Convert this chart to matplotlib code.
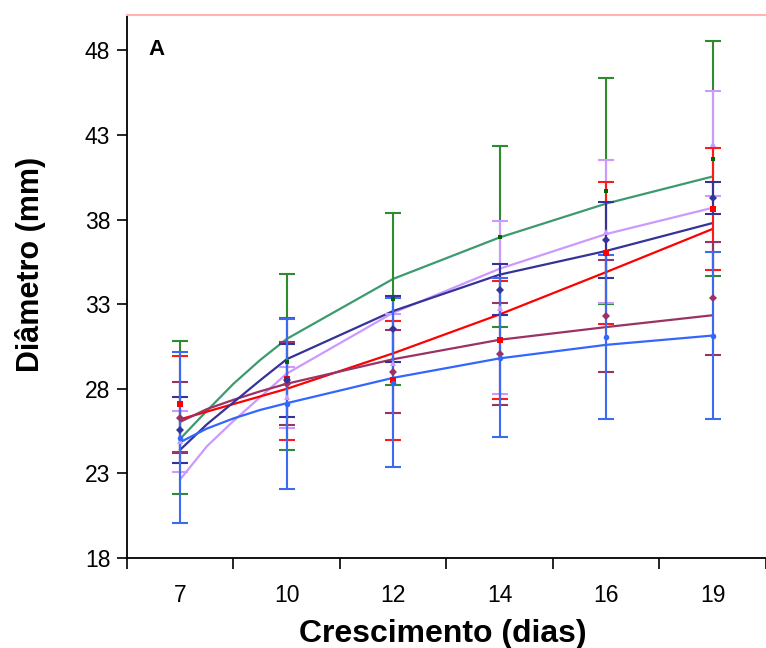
import matplotlib.pyplot as plt
import numpy as np

plt.rcParams["font.family"] = ["Liberation Sans", "DejaVu Sans"]

DAYS = ["7", "10", "12", "14", "16", "19"]

# means and standard deviations
green_mean = [26.3, 29.6, 33.3, 37.0, 39.7, 41.6]
green_sd = [4.5, 5.2, 5.1, 5.35, 6.7, 6.95]
lavender_mean = [24.9, 27.5, 29.5, 32.8, 37.3, 42.5]
lavender_sd = [1.8, 1.8, 2.95, 5.1, 4.2, 3.1]
red_mean = [27.1, 28.6, 28.5, 30.9, 36.05, 38.65]
red_sd = [2.85, 3.6, 3.5, 3.5, 4.2, 3.6]
maroon_mean = [26.3, 28.3, 29.0, 30.05, 32.3, 33.35]
maroon_sd = [2.1, 2.45, 2.45, 3.0, 3.3, 3.35]
navy_mean = [25.55, 28.5, 31.55, 33.85, 36.8, 39.3]
navy_sd = [1.95, 2.15, 1.95, 1.5, 2.25, 0.95]
blue_mean = [25.1, 27.1, 28.35, 29.85, 31.05, 31.15]
blue_sd = [5.05, 5.05, 5.0, 4.7, 4.85, 4.95]

# trend curves, sampled along the category axis
curve_pos = [0, 0.25, 0.5, 0.75, 1, 2, 3, 4, 5]
green_curve = [25.05, 26.7, 28.3, 29.7, 30.95, 34.5, 36.95, 38.95, 40.55]
navy_curve = [24.4, 25.9, 27.2, 28.5, 29.75, 32.6, 34.75, 36.15, 37.8]
lavender_curve = [22.65, 24.6, 26.1, 27.5, 28.9, 32.5, 35.1, 37.15, 38.7]
red_curve = [26.2, 26.65, 27.1, 27.55, 28.0, 30.1, 32.4, 34.9, 37.45]
maroon_curve = [26.05, 26.8, 27.35, 27.85, 28.3, 29.75, 30.9, 31.65, 32.35]
blue_curve = [24.85, 25.65, 26.25, 26.75, 27.15, 28.65, 29.8, 30.6, 31.15]

SERIES = [
    (green_mean, green_sd, green_curve, "#2e8b2e", "#006600", "#3c9b6e", "s", 3.5),
    (lavender_mean, lavender_sd, lavender_curve, "#cc99ff", "#cc99ff", "#cc99ff", "^", 5),
    (red_mean, red_sd, red_curve, "#ff1a1a", "#ff0000", "#ff0000", "s", 4.5),
    (maroon_mean, maroon_sd, maroon_curve, "#993366", "#993366", "#993366", "D", 4),
    (navy_mean, navy_sd, navy_curve, "#333399", "#333399", "#333399", "D", 4),
    (blue_mean, blue_sd, blue_curve, "#3b6cf0", "#3366ff", "#3366ff", "o", 4),
]

fig = plt.figure(figsize=(7.66, 6.48), dpi=100)
ax = fig.add_axes([0.1658, 0.1389, 0.834, 0.838])

x = np.arange(len(DAYS))
for mean, sd, curve, ecol, mcol, ccol, mk, ms in SERIES:
    ax.plot(curve_pos, curve, color=ccol, linewidth=1.6, zorder=2)
for mean, sd, curve, ecol, mcol, ccol, mk, ms in SERIES:
    ax.errorbar(x, mean, yerr=sd, fmt="none", ecolor=ecol, elinewidth=1.5,
                capsize=5.5, capthick=1.5, zorder=3)
for mean, sd, curve, ecol, mcol, ccol, mk, ms in SERIES:
    ax.plot(x, mean, linestyle="none", marker=mk, markersize=ms, color=mcol,
            markeredgewidth=0, zorder=4)

ax.set_xlim(-0.5, 5.5)
ax.set_ylim(18, 50.1)
ax.set_yticks(np.arange(18, 49, 5))
ax.tick_params(axis="y", direction="out", length=7, width=1.2, labelsize=16.5, pad=5)

ax.set_xticks(np.arange(-0.5, 5.6, 1))
ax.set_xticklabels([])
ax.tick_params(axis="x", which="major", direction="out", length=8, width=1.2)
ax.set_xticks(x, minor=True)
ax.set_xticklabels(DAYS, minor=True)
ax.tick_params(axis="x", which="minor", length=0, labelsize=16.5, pad=19)

for side in ["left", "bottom"]:
    ax.spines[side].set_linewidth(1.3)
ax.spines["right"].set_visible(False)
ax.spines["top"].set_color("#ffb3b3")
ax.spines["top"].set_linewidth(1.5)

ax.set_xlabel("Crescimento (dias)", fontsize=23, fontweight="bold")
ax.set_ylabel("Diâmetro (mm)", fontsize=22, fontweight="bold")
ax.xaxis.set_label_coords(0.495, -0.112)
ax.yaxis.set_label_coords(-0.127, 0.54)
ax.text(0.033, 0.955, "A", transform=ax.transAxes, fontsize=16,
        fontweight="bold", va="top")

fig.savefig("out.png", dpi=100)
